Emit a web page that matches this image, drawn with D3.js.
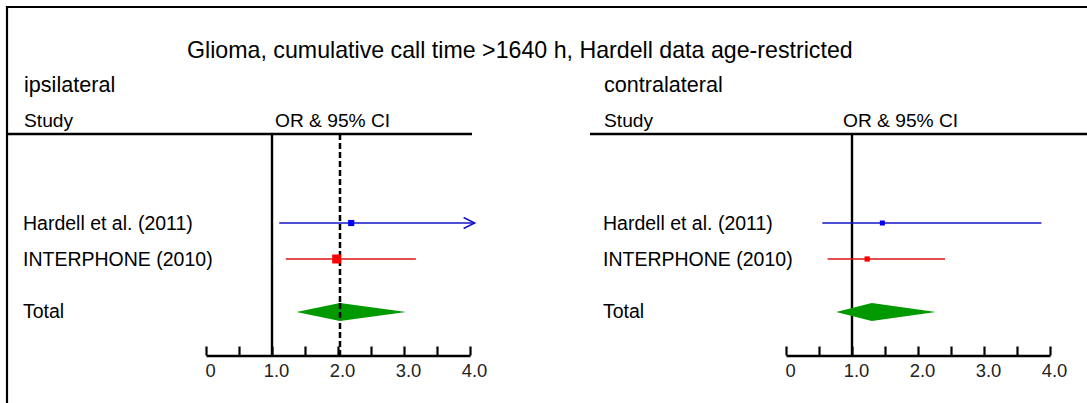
<!DOCTYPE html>
<html><head><meta charset="utf-8">
<script src="https://cdn.jsdelivr.net/npm/d3@7"></script>
<style>
html,body{margin:0;padding:0;background:#fff;}
svg{display:block;font-family:"Liberation Sans",Arial,sans-serif;}
</style></head>
<body>
<svg id="chart" width="1087" height="403"></svg>
<script>
// ---- data ----
const title = "Glioma, cumulative call time >1640 h, Hardell data age-restricted";
const panels = ["ipsilateral", "contralateral"];
const studies = ["Hardell et al. (2011)", "INTERPHONE (2010)"];
const tickValues = [0, 0.5, 1, 1.5, 2, 2.5, 3, 3.5, 4];
const tickLabels = ["0", "", "1.0", "", "2.0", "", "3.0", "", "4.0"];
// ipsilateral
const ipsiOR = [2.20, 1.98];
const ipsiLo = [1.11, 1.21];
const ipsiHi = [4.50, 3.18];
const ipsiWeight = [30, 64];
const ipsiTotal = [2.03, 1.37, 3.03]; // OR, lo, hi
// contralateral
const contraOR = [1.46, 1.23];
const contraLo = [0.55, 0.63];
const contraHi = [3.87, 2.41];
const contraWeight = [20, 22];
const contraTotal = [1.30, 0.76, 2.27];

const colors = ["#1414c8", "#dc1414"];
const markColors = ["#0000ff", "#ff0000"];

const svg = d3.select("#chart");

function txt(x, y, s, size, anchor) {
  svg.append("text")
    .attr("x", x).attr("y", y)
    .attr("font-size", size)
    .attr("text-anchor", anchor || "start")
    .attr("fill", "#000")
    .text(s);
}

// frame
svg.append("path").attr("d", "M7,403V7H1087").attr("fill", "none")
  .attr("stroke", "#000").attr("stroke-width", 2.2);

txt(187, 58, title, 23.2);

const layout = [
  { x0: 206, x1: 470, textX: 23, orX: 275, lineX0: 7, lineX1: 472,
    or: ipsiOR, lo: ipsiLo, hi: ipsiHi, w: ipsiWeight, total: ipsiTotal, dashed: true },
  { x0: 786, x1: 1050, textX: 603, orX: 843, lineX0: 590, lineX1: 1087,
    or: contraOR, lo: contraLo, hi: contraHi, w: contraWeight, total: contraTotal, dashed: false }
];

const rowY = d3.scaleOrdinal().domain([studies[0], studies[1], "Total"]).range([223, 259, 312]);
const sizeScale = d3.scaleSqrt().domain([0, 100]).range([0, 11.2]);
const axisY = 355.5, headY = 134;

layout.forEach((p, pi) => {
  const x = d3.scaleLinear().domain([0, 4]).range([p.x0, p.x1]);
  txt(p.textX + 1, 92, panels[pi], 21.6);
  txt(p.textX + 1, 127, "Study", 19.2);
  txt(p.orX, 127, "OR & 95% CI", 19.2);
  svg.append("line").attr("x1", p.lineX0).attr("x2", p.lineX1)
    .attr("y1", headY).attr("y2", headY).attr("stroke", "#000").attr("stroke-width", 2.5);

  // axis
  const ax = svg.append("g").attr("transform", `translate(0,${axisY})`)
    .call(d3.axisBottom(x).tickValues(tickValues)
      .tickFormat((d, i) => tickLabels[i]).tickSizeInner(-9).tickSizeOuter(0).tickPadding(8));
  ax.select(".domain").attr("stroke-width", 2.6).attr("stroke", "#000");
  ax.selectAll(".tick line").attr("stroke-width", 2.2).attr("stroke", "#000");
  ax.selectAll(".tick text").attr("font-size", 18.4).attr("font-family", "Liberation Sans, Arial, sans-serif")
    .attr("fill", "#222").attr("x", 4);

  // null line
  svg.append("line").attr("x1", x(1)).attr("x2", x(1)).attr("y1", headY).attr("y2", axisY)
    .attr("stroke", "#000").attr("stroke-width", 2.4);
  if (p.dashed) {
    svg.append("line").attr("x1", x(p.total[0])).attr("x2", x(p.total[0]))
      .attr("y1", headY).attr("y2", axisY)
      .attr("stroke", "#000").attr("stroke-width", 2.5).attr("stroke-dasharray", "6,3");
  }

  // studies
  studies.forEach((s, i) => {
    const y = rowY(s);
    txt(p.textX, y + 7, s, 19.5);
    const hiV = Math.min(p.hi[i], 4.07);
    svg.append("line").attr("x1", x(p.lo[i])).attr("x2", x(hiV)).attr("y1", y).attr("y2", y)
      .attr("stroke", colors[i]).attr("stroke-width", 1.6);
    if (p.hi[i] > 4.07) {
      svg.append("path")
        .attr("d", `M${x(hiV) - 11},${y - 5.5}L${x(hiV)},${y}L${x(hiV) - 11},${y + 5.5}`)
        .attr("fill", "none").attr("stroke", colors[i]).attr("stroke-width", 1.6);
    }
    const sz = sizeScale(p.w[i]);
    svg.append("rect").attr("x", x(p.or[i]) - sz / 2).attr("y", y - sz / 2)
      .attr("width", sz).attr("height", sz).attr("fill", markColors[i]);
  });

  // total
  const ty = rowY("Total");
  txt(p.textX, ty + 6, "Total", 19.5);
  const [o, l, h] = p.total;
  svg.append("path")
    .attr("d", `M${x(l)},${ty}L${x(o)},${ty - 9}L${x(h)},${ty}L${x(o)},${ty + 9}Z`)
    .attr("fill", "#009900");
  if (p.dashed) {
    svg.append("line").attr("x1", x(o)).attr("x2", x(o)).attr("y1", ty - 9).attr("y2", ty + 9)
      .attr("stroke", "#000").attr("stroke-width", 2.5).attr("stroke-dasharray", "6,3");
  }
});
</script>
</body></html>
